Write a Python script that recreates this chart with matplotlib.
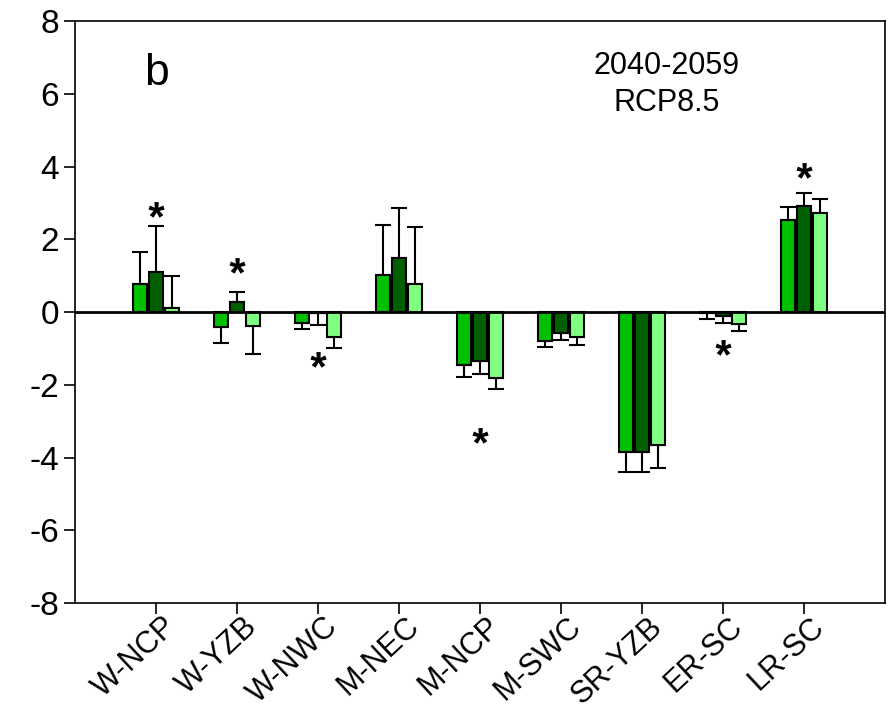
import numpy as np
import matplotlib
matplotlib.use("Agg")
import matplotlib.pyplot as plt
import matplotlib.transforms as mtransforms
from matplotlib.textpath import TextPath
from matplotlib.font_manager import FontProperties
from matplotlib.path import Path

# Data
regions = ["W-NCP", "W-YZB", "W-NWC", "M-NEC", "M-NCP", "M-SWC", "SR-YZB", "ER-SC", "LR-SC"]
bar1 = [0.76, -0.42, -0.29, 1.03, -1.45, -0.80, -3.86, -0.04, 2.54]
err1 = [0.90, 0.43, 0.18, 1.36, 0.34, 0.17, 0.54, 0.14, 0.34]
bar2 = [1.10, 0.28, -0.04, 1.48, -1.34, -0.57, -3.86, -0.10, 2.92]
err2 = [1.27, 0.27, 0.33, 1.39, 0.36, 0.20, 0.55, 0.19, 0.36]
bar3 = [0.10, -0.38, -0.69, 0.78, -1.82, -0.69, -3.66, -0.33, 2.73]
err3 = [0.90, 0.77, 0.29, 1.55, 0.29, 0.21, 0.62, 0.18, 0.37]
star_idx = [0, 1, 2, 4, 7, 8]
star_y = [2.64, 1.11, -1.48, -3.56, -1.15, 3.72]

colors = ["#00c000", "#006000", "#80ff80"]

# Format
plt.rcParams["font.family"] = ["Liberation Sans", "DejaVu Sans"]
plt.rcParams["font.size"] = 24
plt.rcParams["axes.unicode_minus"] = False

fig = plt.figure(figsize=(8.88, 7.12), dpi=100)
ax = fig.add_axes([0.0845, 0.153, 0.912, 0.8175])

x = np.arange(len(regions))
width = 0.17
offset = 0.2
for k, (vals, errs) in enumerate([(bar1, err1), (bar2, err2), (bar3, err3)]):
    vals = np.array(vals)
    errs = np.array(errs)
    lower = np.where(vals < 0, errs, 0)
    upper = np.where(vals >= 0, errs, 0)
    ax.bar(x + (k - 1) * offset, vals, width, color=colors[k],
           edgecolor="black", linewidth=1.5, zorder=2)
    ax.errorbar(x + (k - 1) * offset, vals, yerr=[lower, upper], fmt="none",
                ecolor="black", elinewidth=1.5, capsize=6, capthick=1.5, zorder=1)

ax.axhline(0, color="black", linewidth=2, zorder=3)

# asterisk marker centred on its ink
tp = TextPath((0, 0), "*", prop=FontProperties(family="Liberation Sans", weight="bold"))
v = tp.vertices.copy()
v -= (v.min(axis=0) + v.max(axis=0)) / 2
star = Path(v, tp.codes)
ax.scatter(x[star_idx], star_y, marker=star, s=430, color="black",
           linewidths=0, zorder=4)

ax.set_xlim(-1, 9)
ax.set_ylim(-8, 8)
ax.set_yticks(np.arange(-8, 9, 2))
ax.set_xticks(x)
ax.set_xticklabels(regions, rotation=43, ha="right", va="center",
                   rotation_mode="anchor", fontsize=22)
ax.tick_params(direction="out", length=8, width=1.2)
ax.tick_params(axis="x", pad=6)
shift = mtransforms.ScaledTranslation(0.16, 0, fig.dpi_scale_trans)
for lab in ax.get_xticklabels():
    lab.set_transform(lab.get_transform() + shift)
for s in ax.spines.values():
    s.set_linewidth(1.2)

ax.text(0.0, 6.55, "b", fontsize=32, ha="center", va="center")
ax.text(6.3, 6.75, "2040-2059", fontsize=22, ha="center", va="center")
ax.text(6.3, 5.75, "RCP8.5", fontsize=22, ha="center", va="center")

plt.savefig("out.png", dpi=100)
